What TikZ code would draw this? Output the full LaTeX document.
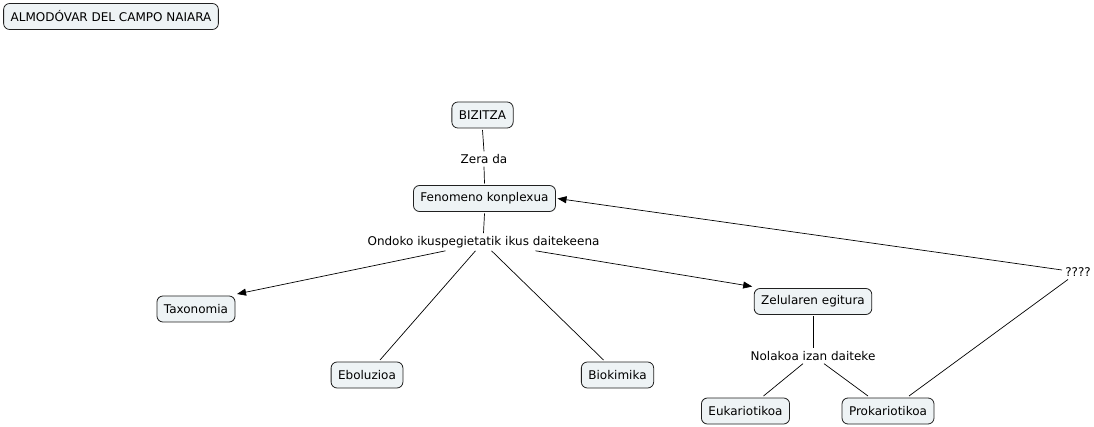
\documentclass[tikz,border=0pt]{standalone}
\usepackage{fontspec}
\setmainfont{DejaVu Sans}
\usetikzlibrary{arrows.meta}
\definecolor{boxfill}{HTML}{EEF3F5}
\definecolor{boxline}{HTML}{202020}
\begin{document}
\begin{tikzpicture}[x=1pt,y=-1pt,
  concept/.style={draw=boxline,fill=boxfill,rounded corners=6pt,line width=0.8pt,
    font=\fontsize{12}{14}\selectfont,inner xsep=7pt,inner ysep=0pt,minimum height=26pt,outer sep=2pt},
  lbl/.style={font=\fontsize{12}{14}\selectfont,inner xsep=2pt,inner ysep=2pt,outer sep=1pt},
  conn/.style={draw=black,line width=0.7pt},
  arr/.style={conn,-{Triangle[length=9pt,width=7pt]}}]
\useasboundingbox (0,0) rectangle (1094,427);
\node[concept] (title) at (111,16.5) {ALMODÓVAR DEL CAMPO NAIARA};
\node[concept] (biz) at (482.5,115) {BIZITZA};
\node[lbl] (zera) at (484,159) {Zera da};
\node[concept] (fen) at (484.5,198.5) {Fenomeno konplexua};
\node[lbl] (ond) at (483.5,242) {Ondoko ikuspegietatik ikus daitekeena};
\node[concept] (tax) at (196,309) {Taxonomia};
\node[concept] (ebo) at (367,375) {Eboluzioa};
\node[concept] (bio) at (617.5,375) {Biokimika};
\node[concept] (zel) at (813,301.5) {Zelularen egitura};
\node[lbl] (nol) at (813,356) {Nolakoa izan daiteke};
\node[concept] (euk) at (745.5,411) {Eukariotikoa};
\node[concept] (pro) at (888,411) {Prokariotikoa};
\node[lbl] (q) at (1078,272) {????};

\draw[conn] (biz.south) -- (zera.north);
\draw[conn] (zera.south) -- (fen.north);
\draw[conn] (fen.south) -- (ond.north);
\draw[arr] ([xshift=-38pt]ond.south) -- (tax.north east);
\draw[conn] ([xshift=-8pt]ond.south) -- ([xshift=13pt]ebo.north);
\draw[conn] ([xshift=8pt]ond.south) -- ([xshift=-14pt]bio.north);
\draw[arr] ([xshift=52pt]ond.south) -- (zel.north west);
\draw[conn] (zel.south) -- (nol.north);
\draw[conn] ([xshift=-10pt]nol.south) -- ([xshift=18pt]euk.north);
\draw[conn] ([xshift=11pt]nol.south) -- ([xshift=-20pt]pro.north);
\draw[conn] ([xshift=21pt]pro.north) -- ([xshift=-10pt]q.south);
\draw[arr] ([xshift=-16pt,yshift=2pt]q.center) -- (fen.east);
\end{tikzpicture}
\end{document}
